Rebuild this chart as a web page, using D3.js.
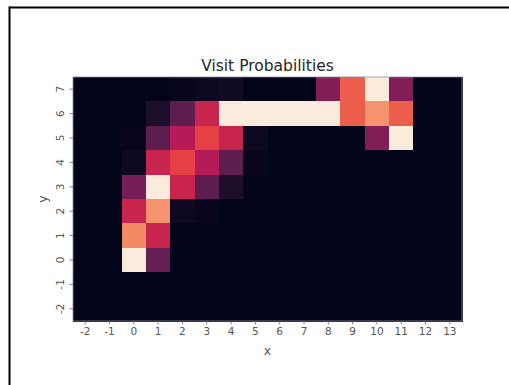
<!DOCTYPE html>
<html>
<head>
<meta charset="utf-8">
<script src="https://cdn.jsdelivr.net/npm/d3@7"></script>
<style>
  html, body { margin: 0; padding: 0; background: #fff; }
  svg { display: block; font-family: "DejaVu Sans", sans-serif; }
</style>
</head>
<body>
<svg id="chart" width="509" height="385"></svg>
<script>
// Grid coordinates
const xCats = [-2, -1, 0, 1, 2, 3, 4, 5, 6, 7, 8, 9, 10, 11, 12, 13];
const yCats = [7, 6, 5, 4, 3, 2, 1, 0, -1, -2]; // top row first

// Visit probability per cell, one row per y value (top to bottom), columns x = -2..13
const rowY7  = [0, 0, 0, 0, 0.01, 0.03, 0.04, 0, 0, 0, 0.33, 0.66, 1.0, 0.33, 0, 0];
const rowY6  = [0, 0, 0, 0.07, 0.24, 0.5, 1.0, 1.0, 1.0, 1.0, 1.0, 0.66, 0.78, 0.66, 0, 0];
const rowY5  = [0, 0, 0.01, 0.24, 0.45, 0.6, 0.5, 0.03, 0, 0, 0, 0, 0.33, 1.0, 0, 0];
const rowY4  = [0, 0, 0.03, 0.5, 0.6, 0.45, 0.24, 0.015, 0, 0, 0, 0, 0, 0, 0, 0];
const rowY3  = [0, 0, 0.3, 1.0, 0.5, 0.24, 0.07, 0, 0, 0, 0, 0, 0, 0, 0, 0];
const rowY2  = [0, 0, 0.5, 0.78, 0.03, 0.01, 0, 0, 0, 0, 0, 0, 0, 0, 0, 0];
const rowY1  = [0, 0, 0.76, 0.5, 0, 0, 0, 0, 0, 0, 0, 0, 0, 0, 0, 0];
const rowY0  = [0, 0, 1.0, 0.26, 0, 0, 0, 0, 0, 0, 0, 0, 0, 0, 0, 0];
const rowYm1 = [0, 0, 0, 0, 0, 0, 0, 0, 0, 0, 0, 0, 0, 0, 0, 0];
const rowYm2 = [0, 0, 0, 0, 0, 0, 0, 0, 0, 0, 0, 0, 0, 0, 0, 0];
const rows = [rowY7, rowY6, rowY5, rowY4, rowY3, rowY2, rowY1, rowY0, rowYm1, rowYm2];

const title = "Visit Probabilities";
const xTitle = "x";
const yTitle = "y";

// "rocket"-style sequential palette
const rocketStops = ["#03051A", "#35193E", "#701F57", "#AD1759", "#E13342", "#F37651", "#F6B48F", "#FAEBDD"];

const cells = [];
rows.forEach((r, i) => r.forEach((v, j) => cells.push({ x: xCats[j], y: yCats[i], v })));

const svg = d3.select("#chart");

// Figure frame
svg.append("line").attr("x1", 9).attr("x2", 509).attr("y1", 7.5).attr("y2", 7.5)
  .attr("stroke", "#000").attr("stroke-width", 2);
svg.append("line").attr("x1", 9.5).attr("x2", 9.5).attr("y1", 6.5).attr("y2", 385)
  .attr("stroke", "#000").attr("stroke-width", 2);

const plot = { left: 73, right: 462, top: 77, bottom: 321 };

const x = d3.scaleBand().domain(xCats).range([plot.left, plot.right]).padding(0);
const y = d3.scaleBand().domain(yCats).range([plot.top, plot.bottom]).padding(0);

const vmax = d3.max(cells, d => d.v);
const color = d3.scaleLinear()
  .domain(rocketStops.map((_, i) => i / (rocketStops.length - 1) * vmax))
  .range(rocketStops)
  .interpolate(d3.interpolateRgb);

svg.append("g").attr("shape-rendering", "crispEdges")
  .selectAll("rect").data(cells).join("rect")
  .attr("x", d => Math.round(x(d.x)))
  .attr("y", d => Math.round(y(d.y)))
  .attr("width", d => Math.round(x(d.x) + x.bandwidth()) - Math.round(x(d.x)) + 1)
  .attr("height", d => Math.round(y(d.y) + y.bandwidth()) - Math.round(y(d.y)) + 1)
  .attr("fill", d => color(d.v));

// Thin outline around the mesh
svg.append("rect")
  .attr("x", plot.left).attr("y", plot.top)
  .attr("width", plot.right - plot.left).attr("height", plot.bottom - plot.top)
  .attr("fill", "none").attr("stroke", "#8a8a99").attr("stroke-width", 0.8);

// Axes
const tickColor = "#666";
const xAxis = svg.append("g")
  .attr("transform", `translate(0,${plot.bottom})`)
  .call(d3.axisBottom(x).tickSize(3.5).tickPadding(3.5));
const yAxis = svg.append("g")
  .attr("transform", `translate(${plot.left},0)`)
  .call(d3.axisLeft(y).tickSize(3.5).tickPadding(3.5));

[xAxis, yAxis].forEach(g => {
  g.select(".domain").remove();
  g.selectAll(".tick line").attr("stroke", tickColor).attr("stroke-width", 0.8);
  g.selectAll(".tick text").attr("fill", "#555").attr("font-size", "10.5px")
    .attr("font-family", "DejaVu Sans, sans-serif");
});

// Rotated y tick labels
yAxis.selectAll(".tick text")
  .attr("text-anchor", "middle")
  .attr("dy", null)
  .attr("x", null)
  .attr("transform", "translate(-13,0) rotate(-90)")
  .attr("dominant-baseline", "central");

// Title and axis labels
svg.append("text")
  .attr("x", (plot.left + plot.right) / 2).attr("y", 71)
  .attr("text-anchor", "middle").attr("font-size", "15.5px").attr("fill", "#262626")
  .text(title);

svg.append("text")
  .attr("x", (plot.left + plot.right) / 2).attr("y", 355)
  .attr("text-anchor", "middle").attr("font-size", "12.5px").attr("fill", "#555")
  .text(xTitle);

svg.append("text")
  .attr("transform", `translate(47,${(plot.top + plot.bottom) / 2}) rotate(-90)`)
  .attr("text-anchor", "middle").attr("font-size", "12.5px").attr("fill", "#555")
  .text(yTitle);
</script>
</body>
</html>
